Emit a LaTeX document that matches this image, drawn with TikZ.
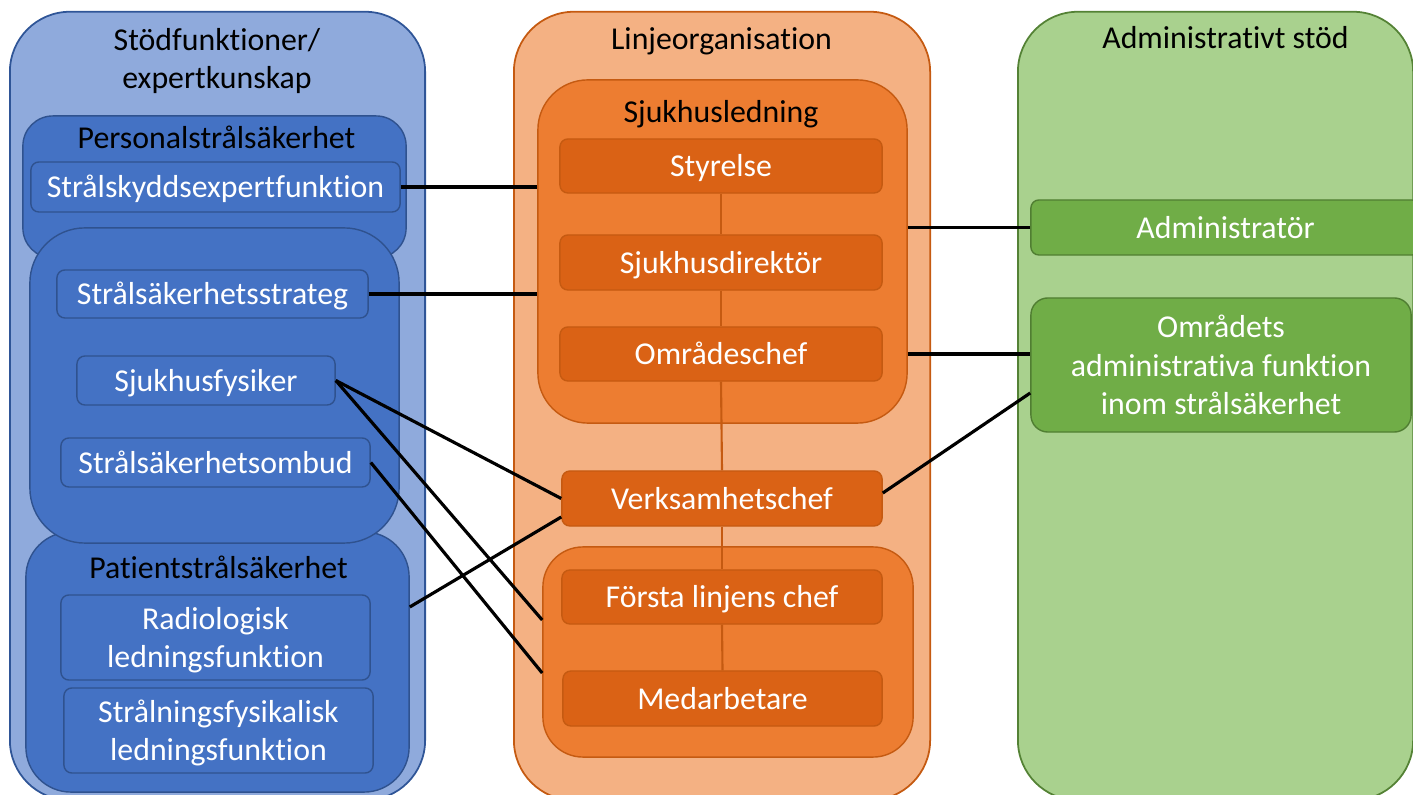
\documentclass[tikz,border=0pt]{standalone}
\usepackage{fontspec}
\setmainfont{Carlito}[RawFeature={-liga;-clig;-calt;-dlig;-rlig}]

\definecolor{stodfill}{HTML}{8FAADC}
\definecolor{stoddraw}{HTML}{2F5597}
\definecolor{bluefill}{HTML}{4472C4}
\definecolor{bluedraw}{HTML}{2F528F}
\definecolor{linjefill}{HTML}{F4B183}
\definecolor{linjedraw}{HTML}{C55A11}
\definecolor{ledfill}{HTML}{ED7D31}
\definecolor{rolefill}{HTML}{DA6215}
\definecolor{admfill}{HTML}{A9D18E}
\definecolor{admdraw}{HTML}{548235}
\definecolor{greenfill}{HTML}{70AD47}
\definecolor{greendraw}{HTML}{507E32}

\begin{document}
\begin{tikzpicture}[
    x=0.01cm, y=-0.01cm,
    every node/.style={font=\fontsize{9.05}{10.9}\selectfont},
    column/.style={draw, line width=0.5pt, rounded corners=0.6cm, inner sep=0pt},
    group/.style={draw, line width=0.4pt, inner sep=0pt},
    role/.style={draw, line width=0.4pt, rounded corners=0.08cm, inner sep=0pt,
        text=white, align=center},
    oneline/.style={text height=8.6pt, text depth=2.45pt},
    lines/.style={text depth=0pt},
    title/.style={align=center, inner sep=0pt},
    rank/.style={draw=linjedraw, line width=0.6pt},
    edge/.style={line width=0.9pt, -}
]
    \useasboundingbox (0,0) rectangle (1413,795);
    \clip (0,0) rectangle (1413,795);

    \node[column, fill=stodfill, draw=stoddraw, minimum width=4.15cm, minimum height=7.88cm] (stod) at (217.5,406) {};
    \node[title, lines] (stodtitle) at (217,58.5) {Stödfunktioner/\\expertkunskap};
    \node[group, rounded corners=0.3cm, fill=bluefill, draw=bluedraw, minimum width=3.83cm, minimum height=1.42cm] (pers) at (214.5,187) {};
    \node[title, oneline] (perstitle) at (216.5,137.5) {Personalstrålsäkerhet};
    \node[role, oneline, fill=bluefill, draw=bluedraw, minimum width=3.69cm, minimum height=0.5cm] (sse) at (215.5,187) {Strålskyddsexpertfunktion};
    \node[group, rounded corners=0.45cm, fill=bluefill, draw=bluedraw, minimum width=3.83cm, minimum height=2.6cm] (pat) at (217.5,662) {};
    \node[title, oneline] (pattitle) at (218.5,567.5) {Patientstrålsäkerhet};
    \node[role, lines, fill=bluefill, draw=bluedraw, minimum width=3.09cm, minimum height=0.85cm] (radio) at (215.5,637.5) {Radiologisk\\ledningsfunktion};
    \node[role, lines, fill=bluefill, draw=bluedraw, minimum width=3.09cm, minimum height=0.85cm] (stral) at (218.5,730.5) {Strålningsfysikalisk\\ledningsfunktion};
    \node[group, rounded corners=0.55cm, fill=bluefill, draw=bluedraw, minimum width=3.69cm, minimum height=3.15cm] (mid) at (214.5,385.5) {};
    \node[role, oneline, fill=bluefill, draw=bluedraw, minimum width=3.11cm, minimum height=0.48cm] (strateg) at (212.5,294) {Strålsäkerhetsstrateg};
    \node[role, oneline, fill=bluefill, draw=bluedraw, minimum width=2.58cm, minimum height=0.49cm] (sf) at (206,380.5) {Sjukhusfysiker};
    \node[role, oneline, fill=bluefill, draw=bluedraw, minimum width=3.09cm, minimum height=0.49cm] (sob) at (215.5,462.5) {Strålsäkerhetsombud};

    \node[column, fill=linjefill, draw=linjedraw, minimum width=4.16cm, minimum height=7.88cm] (linje) at (722,406) {};
    \node[title, oneline] (linjetitle) at (721.5,38.7) {Linjeorganisation};
    \node[group, rounded corners=0.5cm, fill=ledfill, draw=linjedraw, minimum width=3.69cm, minimum height=3.43cm] (led) at (722.5,251.5) {};
    \node[title, oneline] (ledtitle) at (721,112) {Sjukhusledning};
    \node[group, rounded corners=0.4cm, fill=ledfill, draw=linjedraw, minimum width=3.7cm, minimum height=2.1cm] (low) at (728,652) {};
    \node[role, oneline, fill=rolefill, draw=linjedraw, minimum width=3.22cm, minimum height=0.54cm] (styr) at (721,166) {Styrelse};
    \node[role, oneline, fill=rolefill, draw=linjedraw, minimum width=3.22cm, minimum height=0.55cm] (dir) at (721,262.5) {Sjukhusdirektör};
    \node[role, oneline, fill=rolefill, draw=linjedraw, minimum width=3.22cm, minimum height=0.54cm] (omr) at (721,354) {Områdeschef};
    \node[role, oneline, fill=rolefill, draw=linjedraw, minimum width=3.2cm, minimum height=0.55cm] (vc) at (722,498.5) {Verksamhetschef};
    \node[role, oneline, fill=rolefill, draw=linjedraw, minimum width=3.2cm, minimum height=0.54cm] (flc) at (722,597) {Första linjens chef};
    \node[role, oneline, fill=rolefill, draw=linjedraw, minimum width=3.19cm, minimum height=0.55cm] (med) at (722.5,698.5) {Medarbetare};
    \draw[rank] (styr.south) -- (dir.north);
    \draw[rank] (dir.south) -- (omr.north);
    \draw[rank] (omr.south) -- (vc.north);
    \draw[rank] (vc.south) -- (flc.north);
    \draw[rank] (flc.south) -- (med.north);

    \node[column, fill=admfill, draw=admdraw, minimum width=3.95cm, minimum height=7.88cm] (adm) at (1215.5,406) {};
    \node[title, oneline] (admtitle) at (1225.5,37.5) {Administrativt stöd};
    \node[role, oneline, fill=greenfill, draw=greendraw, minimum width=3.89cm, minimum height=0.55cm] (admin) at (1225.5,227.5) {Administratör};
    \node[role, lines, rounded corners=0.17cm, fill=greenfill, draw=greendraw, minimum width=3.8cm, minimum height=1.34cm] (omradm) at (1221,365) {Områdets\\administrativa funktion\\inom strålsäkerhet};

    \draw[edge] (sse.east) -- (sse.east -| led.west);
    \draw[edge] (strateg.east) -- (strateg.east -| led.west);
    \draw[edge] (admin.west -| led.east) -- (admin.west);
    \draw[edge] (omr.east -| led.east) -- (omr.east -| omradm.west);
    \draw[edge] ([yshift=0.055cm]vc.east) -- ([yshift=-0.28cm]omradm.west);
    \draw[edge] (sf.east) -- (vc.west);
    \draw[edge] (sf.east) -- ([yshift=0.32cm]low.west);
    \draw[edge] (sob.east) -- ([yshift=-0.21cm]low.west);
    \draw[edge] ([yshift=0.55cm]pat.east) -- ([yshift=-0.185cm]vc.west);
\end{tikzpicture}
\end{document}
